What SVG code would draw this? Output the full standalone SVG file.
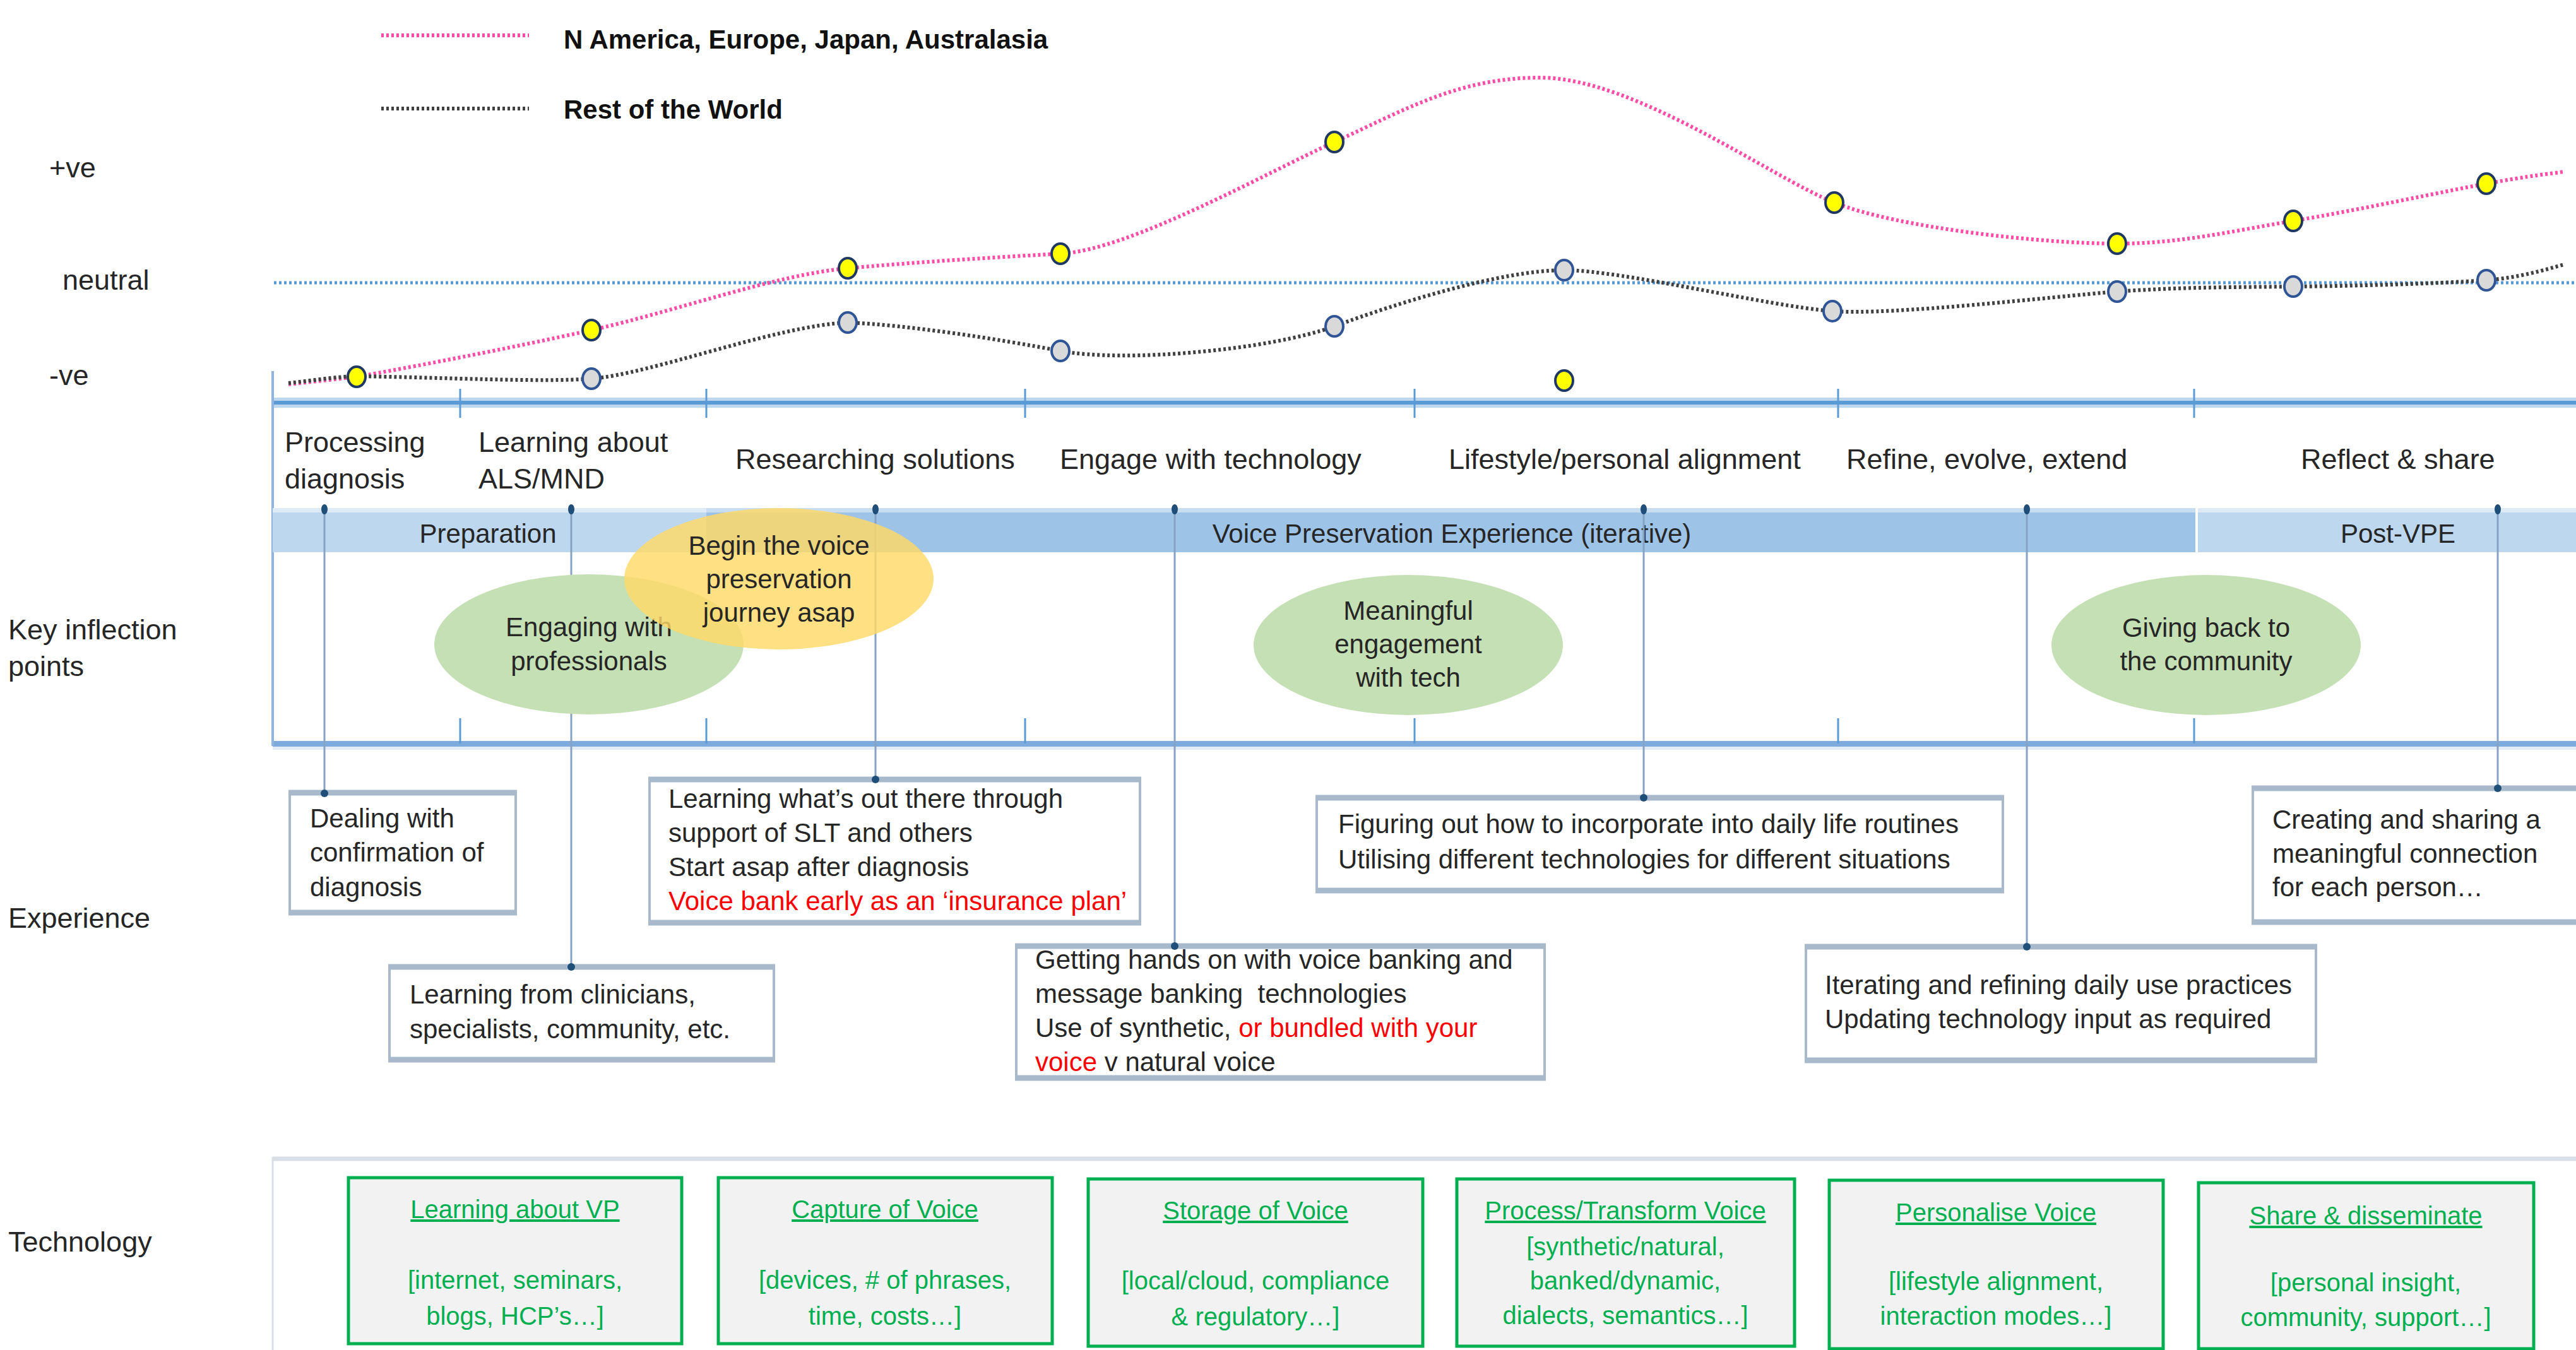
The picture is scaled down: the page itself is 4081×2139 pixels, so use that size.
<svg xmlns="http://www.w3.org/2000/svg" width="4081" height="2139" viewBox="0 0 4081 2139">
<style>
text{font-family:"Liberation Sans",Arial,sans-serif;fill:#262626}
.lab{font-size:45px}
.stg{font-size:45px}
.body{font-size:42px}
.ell{font-size:42px;text-anchor:middle}
.ph{font-size:42px;text-anchor:middle}
.leg{font-size:42px;font-weight:bold;fill:#111}
.tt{font-size:40px;fill:#00B050;text-anchor:middle}
.tu{text-decoration:underline}
.red{fill:#FF0000}
.xbox{fill:#fff;stroke:#A9B9CC;stroke-width:4}
.xedge{stroke:#A9B9CC;stroke-width:9}
.tbox{fill:#F2F2F2;stroke:#00B050;stroke-width:5}
.conn{stroke:#86A3C4;stroke-width:3;fill:none}
.cdot{fill:#1F4E79}
.tick{stroke:#5B9BD5;stroke-width:3}
.ydot{fill:#FFFF00;stroke:#1F3864;stroke-width:4}
.gdot{fill:#D9D9D9;stroke:#2F5597;stroke-width:4}
</style>

<!-- legend -->
<g id="legend">
<line x1="604" y1="56" x2="838" y2="56" stroke="#FF4DA6" stroke-width="6" stroke-dasharray="4 4"/>
<text class="leg" x="893" y="77">N America, Europe, Japan, Australasia</text>
<line x1="604" y1="172" x2="838" y2="172" stroke="#404040" stroke-width="6" stroke-dasharray="4 4"/>
<text class="leg" x="893" y="188">Rest of the World</text>
</g>

<!-- axis labels -->
<g id="axis-labels">
<text class="lab" x="78" y="281">+ve</text>
<text class="lab" x="99" y="459">neutral</text>
<text class="lab" x="78" y="610">-ve</text>
<text class="lab" x="13" y="1013">Key inflection</text>
<text class="lab" x="13" y="1071">points</text>
<text class="lab" x="13" y="1470">Experience</text>
<text class="lab" x="13" y="1983">Technology</text>
</g>

<!-- neutral line -->
<line x1="434" y1="448" x2="4081" y2="448" stroke="#5B9BD5" stroke-width="5" stroke-dasharray="4 4"/>

<!-- timeline frame -->
<g id="timeline">
<rect x="432" y="630" width="3649" height="16" fill="#BDD7EE"/>
<rect x="432" y="635" width="3649" height="6" fill="#5B9BD5"/>
<rect x="432" y="1174" width="3649" height="9" fill="#7FAADC"/>
<rect x="432" y="1183" width="3649" height="5" fill="#E4EDF7"/>
<line x1="432" y1="588" x2="432" y2="1182" stroke="#8FB4E0" stroke-width="4"/>
<g class="tick">
<line x1="729" y1="616" x2="729" y2="662"/><line x1="1119" y1="616" x2="1119" y2="662"/><line x1="1624" y1="616" x2="1624" y2="662"/><line x1="2241" y1="616" x2="2241" y2="662"/><line x1="2912" y1="616" x2="2912" y2="662"/><line x1="3476" y1="616" x2="3476" y2="662"/>
<line x1="729" y1="1138" x2="729" y2="1178"/><line x1="1119" y1="1138" x2="1119" y2="1178"/><line x1="1624" y1="1138" x2="1624" y2="1178"/><line x1="2241" y1="1138" x2="2241" y2="1178"/><line x1="2912" y1="1138" x2="2912" y2="1178"/><line x1="3476" y1="1138" x2="3476" y2="1178"/>
</g>
</g>

<!-- stage labels -->
<g id="stages">
<text class="stg" x="451" y="716">Processing</text>
<text class="stg" x="451" y="774">diagnosis</text>
<text class="stg" x="758" y="716">Learning about</text>
<text class="stg" x="758" y="774">ALS/MND</text>
<text class="stg" x="1165" y="743">Researching solutions</text>
<text class="stg" x="1679" y="743">Engage with technology</text>
<text class="stg" x="2295" y="743">Lifestyle/personal alignment</text>
<text class="stg" x="2925" y="743">Refine, evolve, extend</text>
<text class="stg" x="3645" y="743">Reflect &amp; share</text>
</g>

<!-- phase bar -->
<g id="phase-preparation">
<rect x="432" y="805" width="687" height="70" fill="#BDD7EE"/>
<rect x="432" y="805" width="687" height="7" fill="#DEEBF7"/>
<text class="ph" x="773" y="860">Preparation</text>
</g>
<g id="phase-vpe">
<rect x="1119" y="805" width="2359" height="70" fill="#9DC3E6"/>
<rect x="1119" y="805" width="2359" height="7" fill="#C9DDF0"/>
<text class="ph" x="2300" y="860">Voice Preservation Experience (iterative)</text>
</g>
<g id="phase-post">
<rect x="3482" y="805" width="599" height="70" fill="#BDD7EE"/>
<rect x="3482" y="805" width="599" height="7" fill="#DEEBF7"/>
<text class="ph" x="3799" y="860">Post-VPE</text>
</g>

<!-- curves -->
<g id="curves" fill="none" stroke-width="6" stroke-dasharray="4 4">
<path stroke="#FF4DA6" d="M457,609 C493,605 530,601 565,597 C645,583 807,552 937,523 C1067,494 1231,435 1343,425 C1455,415 1570,408 1680,402 C1790,396 2004,275 2114,225 C2224,175 2310,123 2440,123 C2590,123 2806,281 2906,321 C3006,361 3234,386 3354,386 C3454,386 3536,366 3633,350 C3730,334 3868,304 3939,291 C4010,278 4042,275 4062,272"/>
<path stroke="#404040" d="M457,607 C493,603 530,597 565,596 C700,598 860,606 937,600 C1030,593 1230,516 1343,511 C1440,515 1580,537 1680,556 C1780,575 2010,555 2114,517 C2214,480 2380,428 2478,428 C2570,428 2800,485 2903,493 C3000,500 3250,470 3354,462 C3450,455 3540,455 3633,454 C3730,453 3850,450 3939,444 C3990,440 4030,428 4062,419"/>
</g>
<g id="points">
<ellipse class="gdot" cx="937" cy="600" rx="14" ry="16"/>
<ellipse class="gdot" cx="1343" cy="511" rx="14" ry="16"/>
<ellipse class="gdot" cx="1680" cy="556" rx="14" ry="16"/>
<ellipse class="gdot" cx="2114" cy="517" rx="14" ry="16"/>
<ellipse class="gdot" cx="2478" cy="428" rx="14" ry="16"/>
<ellipse class="gdot" cx="2903" cy="493" rx="14" ry="16"/>
<ellipse class="gdot" cx="3354" cy="462" rx="14" ry="16"/>
<ellipse class="gdot" cx="3633" cy="454" rx="14" ry="16"/>
<ellipse class="gdot" cx="3939" cy="444" rx="14" ry="16"/>
<ellipse class="ydot" cx="565" cy="597" rx="14" ry="16"/>
<ellipse class="ydot" cx="937" cy="523" rx="14" ry="16"/>
<ellipse class="ydot" cx="1343" cy="425" rx="14" ry="16"/>
<ellipse class="ydot" cx="1680" cy="402" rx="14" ry="16"/>
<ellipse class="ydot" cx="2114" cy="225" rx="14" ry="16"/>
<ellipse class="ydot" cx="2906" cy="321" rx="14" ry="16"/>
<ellipse class="ydot" cx="3354" cy="386" rx="14" ry="16"/>
<ellipse class="ydot" cx="3633" cy="350" rx="14" ry="16"/>
<ellipse class="ydot" cx="3939" cy="291" rx="14" ry="16"/>
<ellipse class="ydot" cx="2478" cy="603" rx="14" ry="16"/>
</g>

<!-- connectors -->
<g id="connectors">
<line class="conn" x1="514" y1="805" x2="514" y2="1257"/>
<line class="conn" x1="905" y1="805" x2="905" y2="1531"/>
<line class="conn" x1="1387" y1="805" x2="1387" y2="1234"/>
<line class="conn" x1="1861" y1="805" x2="1861" y2="1498"/>
<line class="conn" x1="2604" y1="805" x2="2604" y2="1263"/>
<line class="conn" x1="3211" y1="805" x2="3211" y2="1498"/>
<line class="conn" x1="3957" y1="805" x2="3957" y2="1248"/>
<g class="cdot">
<ellipse cx="514" cy="807" rx="5" ry="8"/><ellipse cx="905" cy="807" rx="5" ry="8"/><ellipse cx="1387" cy="807" rx="5" ry="8"/><ellipse cx="1861" cy="807" rx="5" ry="8"/><ellipse cx="2604" cy="807" rx="5" ry="8"/><ellipse cx="3211" cy="807" rx="5" ry="8"/><ellipse cx="3957" cy="807" rx="5" ry="8"/>
</g>
</g>

<!-- key inflection points -->
<g id="kip-engaging">
<ellipse cx="933" cy="1021" rx="245" ry="111" fill="#C5E0B4"/>
<text class="ell" x="933" y="1008">Engaging with</text>
<text class="ell" x="933" y="1062">professionals</text>
</g>
<g id="kip-begin">
<ellipse cx="1234" cy="917" rx="245" ry="112" fill="#FFD966" fill-opacity="0.82"/>
<text class="ell" x="1234" y="879">Begin the voice</text>
<text class="ell" x="1234" y="932">preservation</text>
<text class="ell" x="1234" y="985">journey asap</text>
</g>
<g id="kip-meaningful">
<ellipse cx="2231" cy="1022" rx="245" ry="111" fill="#C5E0B4"/>
<text class="ell" x="2231" y="982">Meaningful</text>
<text class="ell" x="2231" y="1035">engagement</text>
<text class="ell" x="2231" y="1088">with tech</text>
</g>
<g id="kip-giving">
<ellipse cx="3495" cy="1022" rx="245" ry="111" fill="#C5E0B4"/>
<text class="ell" x="3495" y="1009">Giving back to</text>
<text class="ell" x="3495" y="1062">the community</text>
</g>

<!-- experience boxes -->
<g id="exp-dealing">
<rect class="xbox" x="459" y="1256" width="358" height="190"/>
<line class="xedge" x1="457" y1="1256" x2="819" y2="1256"/><line class="xedge" x1="457" y1="1446" x2="819" y2="1446"/>
<circle class="cdot" cx="514" cy="1257" r="6"/>
<text class="body" x="491" y="1311">Dealing with</text>
<text class="body" x="491" y="1365">confirmation of</text>
<text class="body" x="491" y="1420">diagnosis</text>
</g>
<g id="exp-learning-clinicians">
<rect class="xbox" x="617" y="1532" width="609" height="147"/>
<line class="xedge" x1="615" y1="1532" x2="1228" y2="1532"/><line class="xedge" x1="615" y1="1679" x2="1228" y2="1679"/>
<circle class="cdot" cx="905" cy="1532" r="6"/>
<text class="body" x="649" y="1590">Learning from clinicians,</text>
<text class="body" x="649" y="1645">specialists, community, etc.</text>
</g>
<g id="exp-learning-out-there">
<rect class="xbox" x="1029" y="1235" width="777" height="227"/>
<line class="xedge" x1="1027" y1="1235" x2="1808" y2="1235"/><line class="xedge" x1="1027" y1="1462" x2="1808" y2="1462"/>
<circle class="cdot" cx="1387" cy="1235" r="6"/>
<text class="body" x="1059" y="1280">Learning what’s out there through</text>
<text class="body" x="1059" y="1334">support of SLT and others</text>
<text class="body" x="1059" y="1388">Start asap after diagnosis</text>
<text class="body red" x="1059" y="1442">Voice bank early as an ‘insurance plan’</text>
</g>
<g id="exp-hands-on">
<rect class="xbox" x="1610" y="1499" width="837" height="209"/>
<line class="xedge" x1="1608" y1="1499" x2="2449" y2="1499"/><line class="xedge" x1="1608" y1="1708" x2="2449" y2="1708"/>
<circle class="cdot" cx="1861" cy="1499" r="6"/>
<text class="body" x="1640" y="1535">Getting hands on with voice banking and</text>
<text class="body" x="1640" y="1589" xml:space="preserve">message banking  technologies</text>
<text class="body" x="1640" y="1643">Use of synthetic, <tspan class="red">or bundled with your</tspan></text>
<text class="body" x="1640" y="1697"><tspan class="red">voice</tspan> v natural voice</text>
</g>
<g id="exp-figuring">
<rect class="xbox" x="2086" y="1264" width="1087" height="147"/>
<line class="xedge" x1="2084" y1="1264" x2="3175" y2="1264"/><line class="xedge" x1="2084" y1="1411" x2="3175" y2="1411"/>
<circle class="cdot" cx="2604" cy="1264" r="6"/>
<text class="body" x="2120" y="1320">Figuring out how to incorporate into daily life routines</text>
<text class="body" x="2120" y="1376">Utilising different technologies for different situations</text>
</g>
<g id="exp-iterating">
<rect class="xbox" x="2861" y="1500" width="808" height="180"/>
<line class="xedge" x1="2859" y1="1500" x2="3671" y2="1500"/><line class="xedge" x1="2859" y1="1680" x2="3671" y2="1680"/>
<circle class="cdot" cx="3211" cy="1500" r="6"/>
<text class="body" x="2891" y="1575">Iterating and refining daily use practices</text>
<text class="body" x="2891" y="1629">Updating technology input as required</text>
</g>
<g id="exp-creating">
<rect class="xbox" x="3569" y="1249" width="530" height="212"/>
<line class="xedge" x1="3567" y1="1249" x2="4081" y2="1249"/><line class="xedge" x1="3567" y1="1461" x2="4081" y2="1461"/>
<circle class="cdot" cx="3957" cy="1249" r="6"/>
<text class="body" x="3600" y="1313">Creating and sharing a</text>
<text class="body" x="3600" y="1367">meaningful connection</text>
<text class="body" x="3600" y="1420">for each person…</text>
</g>

<!-- technology frame -->
<g id="tech-frame">
<line x1="432" y1="1836" x2="4081" y2="1836" stroke="#D9DEE7" stroke-width="7"/>
<line x1="432" y1="1833" x2="432" y2="2139" stroke="#D9DEE7" stroke-width="3"/>
</g>

<g id="tech-learning">
<rect class="tbox" x="552" y="1866" width="528" height="263"/>
<text class="tt tu" x="816" y="1930">Learning about VP</text>
<text class="tt" x="816" y="2042">[internet, seminars,</text>
<text class="tt" x="816" y="2099">blogs, HCP’s…]</text>
</g>
<g id="tech-capture">
<rect class="tbox" x="1138" y="1866" width="529" height="263"/>
<text class="tt tu" x="1402" y="1930">Capture of Voice</text>
<text class="tt" x="1402" y="2042">[devices, # of phrases,</text>
<text class="tt" x="1402" y="2099">time, costs…]</text>
</g>
<g id="tech-storage">
<rect class="tbox" x="1724" y="1868" width="530" height="265"/>
<text class="tt tu" x="1989" y="1932">Storage of Voice</text>
<text class="tt" x="1989" y="2043">[local/cloud, compliance</text>
<text class="tt" x="1989" y="2100">&amp; regulatory…]</text>
</g>
<g id="tech-process">
<rect class="tbox" x="2308" y="1868" width="535" height="265"/>
<text class="tt tu" x="2575" y="1932">Process/Transform Voice</text>
<text class="tt" x="2575" y="1989">[synthetic/natural,</text>
<text class="tt" x="2575" y="2043">banked/dynamic,</text>
<text class="tt" x="2575" y="2098">dialects, semantics…]</text>
</g>
<g id="tech-personalise">
<rect class="tbox" x="2898" y="1870" width="529" height="267"/>
<text class="tt tu" x="3162" y="1935">Personalise Voice</text>
<text class="tt" x="3162" y="2044">[lifestyle alignment,</text>
<text class="tt" x="3162" y="2099">interaction modes…]</text>
</g>
<g id="tech-share">
<rect class="tbox" x="3483" y="1874" width="531" height="263"/>
<text class="tt tu" x="3748" y="1940">Share &amp; disseminate</text>
<text class="tt" x="3748" y="2046">[personal insight,</text>
<text class="tt" x="3748" y="2101">community, support…]</text>
</g>
</svg>
